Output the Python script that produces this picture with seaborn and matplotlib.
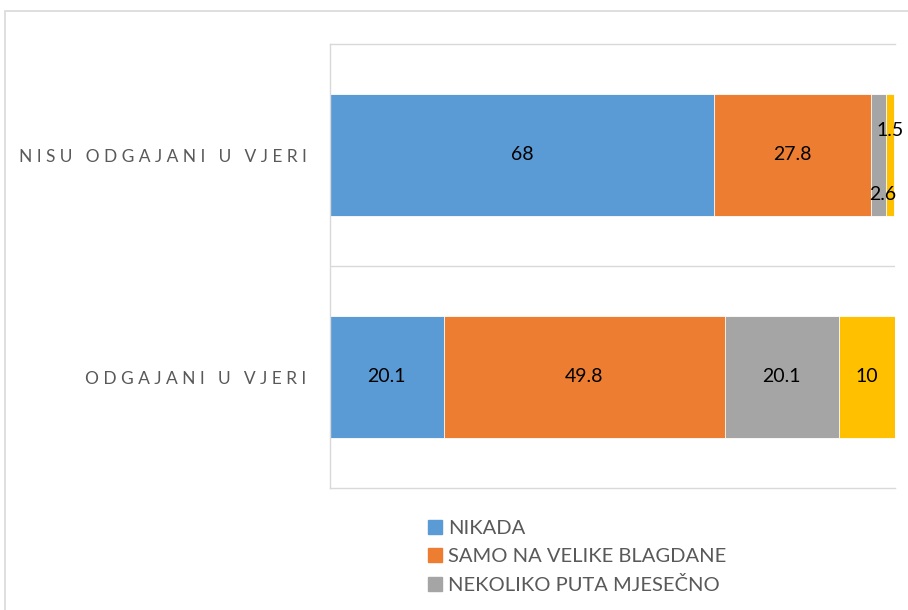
import numpy as np
import pandas as pd
import matplotlib
matplotlib.use("Agg")
import matplotlib.pyplot as plt
import matplotlib.patches as mpatches
import seaborn as sns

# Data
categories = ["NISU ODGAJANI U VJERI", "ODGAJANI U VJERI"]
series_names = ["NIKADA", "SAMO NA VELIKE BLAGDANE", "NEKOLIKO PUTA MJESEČNO", "JEDNOM TJEDNO ILI ČEŠĆE"]
nikada = [68, 20.1]
blagdani = [27.8, 49.8]
mjesecno = [2.6, 20.1]
tjedno = [1.5, 10]
colors = ["#5B9BD5", "#ED7D31", "#A5A5A5", "#FFC000"]

sns.set_theme(style="white")
plt.rcParams["font.family"] = ["Lato", "DejaVu Sans"]

values = np.array([nikada, blagdani, mjesecno, tjedno])
cum = values.cumsum(axis=0)

fig = plt.figure(figsize=(9.08, 6.10), dpi=100)
ax = fig.add_axes([330 / 908, 1 - 488 / 610, (895 - 330) / 908, (488 - 44) / 610])

# stacked bars: draw cumulative totals from the widest down
for i in reversed(range(len(series_names))):
    df = pd.DataFrame({"cat": categories, "val": cum[i]})
    sns.barplot(data=df, x="val", y="cat", orient="h", color=colors[i],
                width=0.55, edgecolor="white", linewidth=0.6, saturation=1, ax=ax)

# value labels
for i in range(len(series_names)):
    for j in range(len(categories)):
        v = values[i, j]
        xc = cum[i, j] - v / 2
        yc = j
        if v < 5:
            # small segments: nudge labels apart like the original
            if i == 2:
                yc, xc = j + 0.18, xc + 0.7
            else:
                yc = j - 0.11
        ax.text(xc, yc, f"{v:g}", ha="center", va="center", fontsize=14, color="black")

ax.set_xlim(0, 100)
ax.set_ylim(1.5, -0.5)
ax.set_xlabel("")
ax.set_ylabel("")
ax.set_xticks([])
spaced = ["\u2005".join(c) for c in categories]
ax.set_yticks(range(len(categories)))
ax.set_yticklabels(spaced, fontsize=12.5, color="#595959")
ax.tick_params(axis="y", length=0, pad=17)

for s in ["top", "bottom", "left"]:
    ax.spines[s].set_color("#D9D9D9")
    ax.spines[s].set_linewidth(1)
ax.spines["right"].set_visible(False)
ax.axhline(0.5, color="#D9D9D9", lw=1, zorder=0)

handles = [mpatches.Patch(color=colors[i], label=series_names[i]) for i in range(3)]
fig.legend(handles=handles, loc="upper left", bbox_to_anchor=(420 / 908, 1 - 512 / 610),
           frameon=False, fontsize=14.5, labelcolor="#595959", handlelength=0.7,
           handleheight=0.7, handletextpad=0.3, labelspacing=0.55, borderaxespad=0)

# outer chart border
fig.patches.append(mpatches.Rectangle((5 / 908, -0.1), 1.2, 1.1 - 11 / 610,
                                      transform=fig.transFigure, fill=False,
                                      edgecolor="#D9D9D9", lw=1.2))

fig.savefig("out.png", dpi=100)
